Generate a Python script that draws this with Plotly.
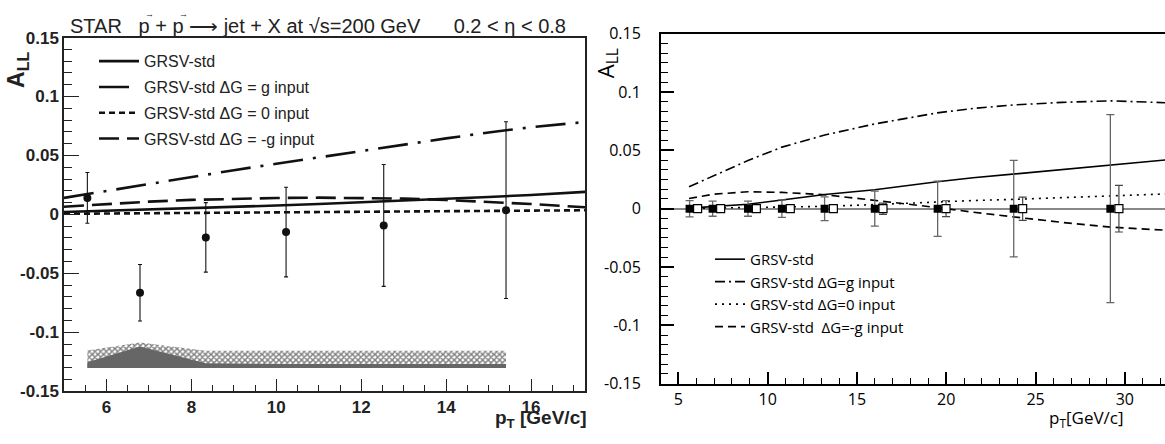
import plotly.graph_objects as go

# ---------------- Left panel data (STAR) ----------------
left_pt_x = [5.55, 6.79, 8.34, 10.23, 12.53, 15.41]
left_pt_y = [0.014, -0.0665, -0.0195, -0.015, -0.0094, 0.0036]
left_pt_err = [0.0215, 0.024, 0.0295, 0.038, 0.0517, 0.075]

left_curve_x = [5, 6, 7, 8, 9, 10, 11, 12, 13, 14, 15, 16, 17.3]
left_std = [0.002, 0.003, 0.004, 0.005, 0.006, 0.0075, 0.0088, 0.0102, 0.0117, 0.0132, 0.0148, 0.0165, 0.0192]
left_g = [0.014, 0.020, 0.026, 0.032, 0.0375, 0.043, 0.0485, 0.054, 0.0595, 0.0645, 0.0695, 0.074, 0.0785]
left_zero = [0.0005, 0.0008, 0.001, 0.0013, 0.0015, 0.0018, 0.002, 0.0022, 0.0025, 0.0027, 0.003, 0.0032, 0.0035]
left_mg = [0.0065, 0.0088, 0.0108, 0.0123, 0.0133, 0.0139, 0.0142, 0.0141, 0.0134, 0.0122, 0.0106, 0.0088, 0.006]

sys_x = [5.55, 6.79, 8.34, 10.23, 12.53, 15.41]
sys_bottom = [-0.1303, -0.1303, -0.1303, -0.1303, -0.1303, -0.1303]
sys_hatch_top = [-0.1155, -0.1087, -0.1158, -0.1158, -0.1158, -0.1158]
sys_gray_top = [-0.1255, -0.112, -0.1262, -0.127, -0.127, -0.127]

left_xticks = [6, 8, 10, 12, 14, 16]
yticks = [-0.15, -0.1, -0.05, 0, 0.05, 0.1, 0.15]
ytick_text = ["-0.15", "-0.1", "-0.05", "0", "0.05", "0.1", "0.15"]

# ---------------- Right panel data ----------------
right_curve_x = [5.6, 7, 8.9, 10.8, 13.2, 16, 18, 19.5, 21.5, 23.8, 26.5, 29.2, 32.3]
right_std = [0.0005, 0.002, 0.0038, 0.0075, 0.0122, 0.0162, 0.0203, 0.0231, 0.0265, 0.0298, 0.034, 0.0378, 0.0418]
right_g = [0.0188, 0.0283, 0.0413, 0.0528, 0.0632, 0.0727, 0.0785, 0.0822, 0.086, 0.089, 0.0912, 0.0925, 0.0909]
right_zero = [0.0003, 0.0005, 0.0008, 0.0012, 0.002, 0.0035, 0.005, 0.006, 0.007, 0.008, 0.0093, 0.0107, 0.0127]
right_mg = [0.0087, 0.0125, 0.0145, 0.014, 0.012, 0.0073, 0.0035, 0.001, -0.003, -0.0071, -0.0118, -0.0158, -0.0185]

filled_x = [5.63, 6.92, 8.9, 10.8, 13.19, 16.0, 19.52, 23.78, 29.19]
filled_y = [0, 0, 0, 0, 0, 0, 0, 0, 0]
filled_err = [0.007, 0.0065, 0.0065, 0.0075, 0.0102, 0.015, 0.0237, 0.0414, 0.0806]
open_x = [6.08, 7.37, 9.37, 11.27, 13.68, 16.46, 19.99, 24.28, 29.67]
open_y = [0, 0, 0, 0, 0, 0, 0, 0, 0]
open_err = [0.001, 0.001, 0.0012, 0.0015, 0.003, 0.0048, 0.0068, 0.01, 0.02]

right_xticks = [5, 10, 15, 20, 25, 30]

left_names = ["GRSV-std", "GRSV-std \u0394G = g input", "GRSV-std \u0394G = 0 input", "GRSV-std \u0394G = -g input"]
right_names = ["GRSV-std", "GRSV-std \u0394G=g input", "GRSV-std \u0394G=0 input", "GRSV-std\u00a0 \u0394G=-g input"]

W, H = 1165, 444
LF = "Liberation Sans, Arial, sans-serif"
RF = "Open Sans, Noto Sans, sans-serif"

fig = go.Figure()

# systematic bands (left)
fig.add_trace(go.Scatter(x=sys_x, y=sys_bottom, mode="lines", line=dict(width=0),
                         showlegend=False, hoverinfo="skip", xaxis="x", yaxis="y"))
fig.add_trace(go.Scatter(x=sys_x, y=sys_hatch_top, mode="lines", line=dict(width=0),
                         fill="tonexty", fillcolor="white",
                         fillpattern=dict(shape="x", size=4, solidity=0.6, fgcolor="black", bgcolor="white"),
                         showlegend=False, hoverinfo="skip", xaxis="x", yaxis="y"))
fig.add_trace(go.Scatter(x=sys_x, y=sys_bottom, mode="lines", line=dict(width=0),
                         showlegend=False, hoverinfo="skip", xaxis="x", yaxis="y"))
fig.add_trace(go.Scatter(x=sys_x, y=sys_gray_top, mode="lines", line=dict(width=0),
                         fill="tonexty", fillcolor="#666666",
                         showlegend=False, hoverinfo="skip", xaxis="x", yaxis="y"))

# left curves
left_styles = [("solid", left_std), ("30px,10px,3px,10px", left_g), ("6px,4px", left_zero), ("20px,8px", left_mg)]
for i, (dash, vals) in enumerate(left_styles):
    fig.add_trace(go.Scatter(x=left_curve_x, y=vals, mode="lines", name=left_names[i],
                             line=dict(color="#111", width=2.6, dash=dash),
                             legend="legend", legendgroup="L%d" % i,
                             xaxis="x", yaxis="y"))

# left points
fig.add_trace(go.Scatter(x=left_pt_x, y=left_pt_y, mode="markers",
                         marker=dict(color="#111", size=8, symbol="circle"),
                         error_y=dict(type="data", array=left_pt_err, color="#111", thickness=1.1, width=2),
                         showlegend=False, xaxis="x", yaxis="y"))

# right curves
right_styles = [("solid", right_std), ("10px,4px,2px,4px", right_g), ("2px,5px", right_zero), ("8px,5px", right_mg)]
for i, (dash, vals) in enumerate(right_styles):
    fig.add_trace(go.Scatter(x=right_curve_x, y=vals, mode="lines", name=right_names[i],
                             line=dict(color="black", width=1.6, dash=dash),
                             legend="legend2", legendgroup="R%d" % i,
                             xaxis="x2", yaxis="y2"))

# right points
fig.add_trace(go.Scatter(x=filled_x, y=filled_y, mode="markers",
                         marker=dict(color="black", size=8, symbol="square"),
                         error_y=dict(type="data", array=filled_err, color="#666", thickness=1.3, width=4),
                         showlegend=False, xaxis="x2", yaxis="y2"))
fig.add_trace(go.Scatter(x=open_x, y=open_y, mode="markers",
                         marker=dict(color="white", size=8, symbol="square", line=dict(color="black", width=1.2)),
                         error_y=dict(type="data", array=open_err, color="#444", thickness=1.2, width=4),
                         showlegend=False, xaxis="x2", yaxis="y2"))

def px(v):
    return v / W

def py(v):
    return 1 - v / H

annotations = [
    dict(text="STAR\u00a0\u00a0 p + p \u27f6 jet + X at \u221as=200 GeV\u00a0\u00a0\u00a0\u00a0\u00a0 0.2 < \u03b7 < 0.8",
         x=px(68), y=py(16), xref="paper", yref="paper", xanchor="left", yanchor="middle",
         showarrow=False, font=dict(family=LF, size=20, color="#222")),
    dict(text="\u2192", x=px(149.5), y=py(3), xref="paper", yref="paper", xanchor="center", yanchor="middle",
         showarrow=False, font=dict(family=LF, size=9, color="#222")),
    dict(text="\u2192", x=px(183.5), y=py(3), xref="paper", yref="paper", xanchor="center", yanchor="middle",
         showarrow=False, font=dict(family=LF, size=9, color="#222")),
    dict(text="<b>A<sub>LL</sub></b>", x=px(18), y=py(62), xref="paper", yref="paper",
         xanchor="center", yanchor="middle",
         textangle=-90, showarrow=False, font=dict(family=LF, size=23, color="#222")),
    dict(text="<b>p<sub>T</sub> [GeV/c]</b>", x=px(589), y=py(444), xref="paper", yref="paper",
         xanchor="right", yanchor="bottom", showarrow=False, font=dict(family=LF, size=19, color="#222")),
    dict(text="A<sub>LL</sub>", x=px(607), y=py(55), xref="paper", yref="paper",
         xanchor="center", yanchor="middle",
         textangle=-90, showarrow=False, font=dict(family=RF, size=22, color="black")),
    dict(text="p<sub>T</sub>[GeV/c]", x=px(1126), y=py(444), xref="paper", yref="paper",
         xanchor="right", yanchor="bottom", showarrow=False, font=dict(family=RF, size=17, color="black")),
]

fig.update_layout(
    width=W, height=H,
    margin=dict(l=0, r=0, t=0, b=0),
    paper_bgcolor="white", plot_bgcolor="white",
    annotations=annotations,
    xaxis=dict(domain=[px(64), px(585)], range=[5, 17.27], showgrid=False, zeroline=False,
               showline=True, linecolor="#222", linewidth=1.5, mirror=True,
               tickmode="array", tickvals=left_xticks, ticktext=["<b>%d</b>" % t for t in left_xticks],
               ticks="inside", ticklen=12, tickwidth=1.3,
               tickcolor="#222", minor=dict(ticks="inside", dtick=0.5, tick0=5, ticklen=6, tickcolor="#222", tickwidth=1.2),
               tickfont=dict(family=LF, size=17, color="#222"), anchor="y"),
    yaxis=dict(domain=[py(400), py(28)], range=[-0.15, 0.15], showgrid=False, zeroline=False,
               showline=True, linecolor="#222", linewidth=1.5, mirror=True,
               tickmode="array", tickvals=yticks, ticktext=["<b>%s</b>" % t for t in ytick_text],
               ticks="inside", ticklen=15, tickwidth=1.3, tickcolor="#222",
               minor=dict(ticks="inside", dtick=0.01, tick0=0, ticklen=8, tickcolor="#222", tickwidth=1.2),
               tickfont=dict(family=LF, size=17, color="#222"), anchor="x"),
    xaxis2=dict(domain=[px(661), 1.0], range=[4.03, 32.25], showgrid=False, zeroline=False,
                showline=True, linecolor="black", linewidth=2, mirror=True,
                tickmode="array", tickvals=right_xticks, ticks="inside", ticklen=12, tickwidth=1.5,
                tickcolor="black", minor=dict(ticks="inside", dtick=1, tick0=5, ticklen=6, tickcolor="black", tickwidth=1.2),
                tickfont=dict(family=RF, size=16, color="black"), anchor="y2"),
    yaxis2=dict(domain=[py(392), py(24)], range=[-0.15, 0.15], showgrid=False,
                zeroline=True, zerolinecolor="#888", zerolinewidth=1.6,
                showline=True, linecolor="black", linewidth=2, mirror=False,
                tickmode="array", tickvals=yticks, ticktext=ytick_text,
                ticks="inside", ticklen=13, tickwidth=1.5, tickcolor="black",
                minor=dict(ticks="inside", dtick=0.05 / 6, tick0=0, ticklen=7, tickcolor="black", tickwidth=1.2),
                ticklabelstandoff=15,
                tickfont=dict(family=RF, size=16, color="black"), anchor="x2"),
    legend=dict(x=px(94), y=py(35), xanchor="left", yanchor="top", bgcolor="rgba(0,0,0,0)",
                font=dict(family=LF, size=16, color="#222"), traceorder="grouped", tracegroupgap=2,
                itemwidth=40),
    legend2=dict(x=px(710), y=py(244), xanchor="left", yanchor="top", bgcolor="rgba(0,0,0,0)",
                 font=dict(family=RF, size=15, color="black"), traceorder="grouped", tracegroupgap=0,
                 itemwidth=30),
)

fig.write_html("out.html", config={"displayModeBar": False},
               post_script="document.body.style.margin='0';document.body.style.overflow='hidden';")
